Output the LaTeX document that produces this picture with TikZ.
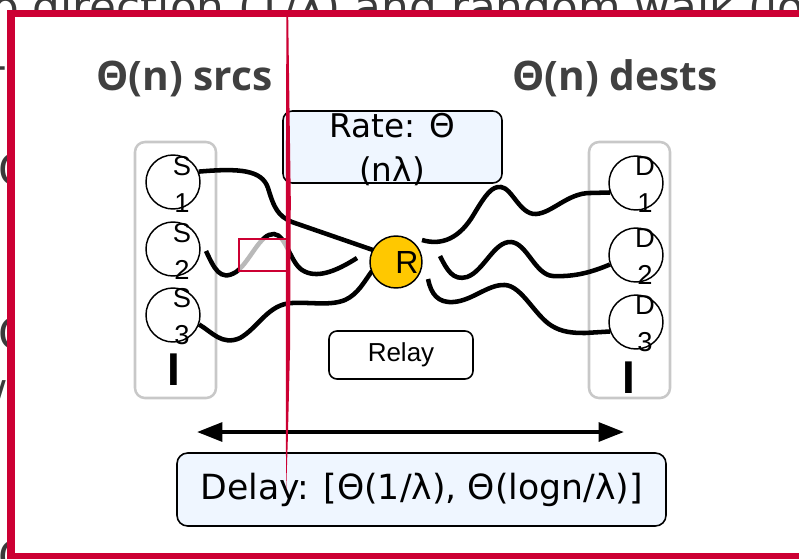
\documentclass[tikz,border=0pt]{standalone}
\usepackage{fontspec}
\setmainfont{Liberation Sans}
\newfontfamily\dvs{DejaVu Sans}
\newfontfamily\osans{Open Sans}
\usetikzlibrary{arrows.meta,fit}
\definecolor{framered}{RGB}{204,0,51}
\definecolor{gold}{RGB}{255,200,0}
\definecolor{paleblue}{RGB}{239,246,255}
\definecolor{boxgray}{RGB}{200,200,200}
\definecolor{titlegray}{RGB}{64,64,64}
\definecolor{ghost}{RGB}{58,58,58}
\definecolor{fadegray}{RGB}{185,185,185}
\begin{document}
\begin{tikzpicture}[x=0.75pt,y=-0.75pt,
  sdnode/.style={circle, draw, line width=1.1pt, minimum size=40.5pt, inner sep=0pt},
  sdlabel/.style={align=center, font=\fontsize{20.5}{27.75}\selectfont, inner sep=0pt},
  wire/.style={line width=3.4pt},
  container/.style={draw=boxgray, line width=1.9pt, rounded corners=7.5pt, inner sep=0pt},
  infobox/.style={draw, fill=paleblue, line width=1.2pt, rounded corners=7pt, inner sep=0pt},
  titletext/.style={font=\osans\bfseries\fontsize{30.5}{36}\selectfont, text=titlegray, anchor=base, inner sep=0pt},
  ghosttext/.style={font=\dvs\fontsize{32.8}{36}\selectfont, text=ghost, inner sep=0pt},
  barglyph/.style={font=\bfseries\fontsize{34.5}{36}\selectfont, anchor=base, inner sep=0pt},
  dblarrow/.style={line width=3pt, {Triangle[length=19pt,width=14pt]}-{Triangle[length=19pt,width=14pt]}}
]
\useasboundingbox (0,0) rectangle (799,558);
\begin{scope}
\clip (0,0) rectangle (799,558);

% ghost text of the slide behind
\begin{scope}
\clip (0,0) rectangle (799,11);
\node[ghosttext, anchor=base west] (bgtop) at (-8,22) {o direction (1/λ) and random walk (lo};
\end{scope}
\begin{scope}
\clip (0,0) rectangle (8,558);
\node[ghosttext, anchor=base west] (bgl1) at (-2,185) {C};
\node[ghosttext, anchor=base west] (bgl2) at (-2,349) {C};
\node[ghosttext, anchor=base east] (bgl3) at (7,412) {/};
\node[ghosttext, anchor=base west] (bgl4) at (-2,572) {C};
\node[ghosttext, anchor=base east] (bgl5) at (8,80) {-};
\end{scope}

% titles
\node[titletext] (srcs) at (184.5,90) {Θ(n) srcs};
\node[titletext] (dests) at (615,90) {Θ(n) dests};

% containers
\node[container, fit={(135,142) (216,398)}] (srcbox) {};
\node[container, fit={(589,142) (670,398)}] (dstbox) {};

% boxes
\node[infobox, fit={(283,111) (502,183)}] (ratebox) {};
\node[font=\dvs\fontsize{24.5}{33}\selectfont, align=center, inner sep=0pt] (ratetext) at (392,150) {Rate: Θ\\(nλ)};
\node[draw, fill=white, line width=1.2pt, rounded corners=6pt, minimum width=108pt, minimum height=36pt, inner sep=0pt,
      font=\fontsize{19.5}{22}\selectfont] (relaybox) at (401,355) {Relay};
\node[infobox, rounded corners=8pt, minimum width=366.75pt, minimum height=54.75pt,
      font=\dvs\fontsize{26}{30}\selectfont] (delaybox) at (421.5,489.5) {Delay: [Θ(1/λ), Θ(logn/λ)]};

% nodes
\node[sdnode] (s1) at (173,182) {};
\node[sdnode] (s2) at (173,249) {};
\node[sdnode] (s3) at (173,315) {};
\node[sdnode] (d1) at (636,183) {};
\node[sdnode] (d2) at (636,255) {};
\node[sdnode] (d3) at (636,322) {};

% free ends of the wires
\coordinate (s2s) at (206,251);
\coordinate (s2e) at (357,258);
\coordinate (d1s) at (422,240);
\coordinate (d2s) at (440,256);
\coordinate (d3s) at (428,279);
\coordinate (r0) at (396,262);

% wires
\draw[wire] (s1.22) .. controls (240,168) and (262,170) .. (268,188)
   .. controls (274,208) and (278,216) .. (292,222) -- (373,250);
\draw[wire] (s2s) .. controls (214,268) and (220,282) .. (236,272)
   .. controls (250,262) and (260,233) .. (274,234)
   .. controls (286,235) and (290,262) .. (302,270)
   .. controls (316,279) and (335,272) .. (s2e);
\draw[wire] (s3.-20) .. controls (212,332) and (222,346) .. (240,338)
   .. controls (258,328) and (268,304) .. (292,303)
   .. controls (312,302) and (330,306) .. (345,300)
   .. controls (358,294) and (364,282) .. (372,271);
\draw[wire] (d1s) .. controls (442,246) and (460,238) .. (474,214)
   .. controls (486,194) and (492,186) .. (501,187)
   .. controls (512,188) and (520,215) .. (536,214)
   .. controls (552,213) and (568,193) .. (590,193) -- (d1.200);
\draw[wire] (d2s) .. controls (447,270) and (453,281) .. (467,277)
   .. controls (484,271) and (494,241) .. (511,242)
   .. controls (527,243) and (535,275) .. (553,276)
   .. controls (575,277) and (592,272) .. (d2.200);
\draw[wire] (d3s) .. controls (431,294) and (438,303) .. (453,302)
   .. controls (472,301) and (488,284) .. (505,285)
   .. controls (522,286) and (535,316) .. (552,326)
   .. controls (562,332) and (572,333) .. (585,333) -- (d3.200);

% relay
\node[circle, draw, fill=gold, line width=1.1pt, minimum size=39pt, inner sep=0pt] (r) at (r0) {};
\node[font=\fontsize{24}{26}\selectfont, inner sep=0pt] (rtext) at (407,262) {R};

% labels
\node[sdlabel] (s1t) at (182,184) {S\\1};
\node[sdlabel] (s2t) at (182,251) {S\\2};
\node[sdlabel] (s3t) at (182,317) {S\\3};
\node[sdlabel] (d1t) at (645,185) {D\\1};
\node[sdlabel] (d2t) at (645,257) {D\\2};
\node[sdlabel] (d3t) at (645,324) {D\\3};
\node[barglyph] (sdots) at (173.5,385) {I};
\node[barglyph] (ddots) at (628.5,393) {I};

% delay arrow
\coordinate (al) at (197,432);
\coordinate (ar) at (624,432);
\draw[dblarrow] (al) -- (ar);

% highlighted piece of the S2 wire
\begin{scope}
\clip (239,239) rectangle (289,271);
\fill[white] (239,239) rectangle (289,271);
\draw[wire, fadegray] (s2s) .. controls (214,268) and (220,282) .. (236,272)
   .. controls (250,262) and (260,233) .. (274,234)
   .. controls (286,235) and (290,262) .. (302,270)
   .. controls (316,279) and (335,272) .. (s2e);
\end{scope}
\node[draw=framered, line width=1.5pt, inner sep=0pt, fit={(239,239) (289,271)}] (hl) {};

% red marker line
\fill[framered] (286.4,17) -- (288.2,17) -- (290.8,200) -- (290,350) -- (287.8,440) -- (286.2,490)
  -- (285.9,440) -- (285.8,200) -- cycle;

% frame
\draw[framered, line width=5.8pt] (11,13.5) rectangle (840,557);
\end{scope}
\end{tikzpicture}
\end{document}
